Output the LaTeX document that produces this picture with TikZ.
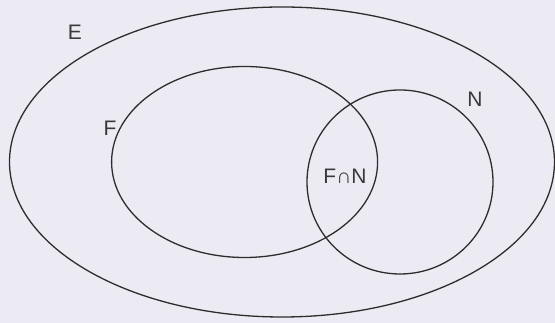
\documentclass[tikz,border=0pt]{standalone}
\usepackage{fontspec}
\setmainfont{Liberation Sans}
\definecolor{bgc}{HTML}{ECEAF3}
\definecolor{linec}{HTML}{302C2C}
\definecolor{textc}{HTML}{3A3838}
\begin{document}
\begin{tikzpicture}[x=1pt,y=1pt,
  setline/.style={draw=linec,line width=1.3pt},
  setlabel/.style={text=textc,font=\fontsize{21}{24}\selectfont,inner sep=0pt}]
\fill[bgc] (0,0) rectangle (555,323);
\useasboundingbox (0,0) rectangle (555,323);
\draw[setline] (282,161) ellipse [x radius=272.5, y radius=155];
\draw[setline] (244.6,161) ellipse [x radius=133, y radius=95.5];
\draw[setline] (400,141) ellipse [x radius=93, y radius=92];
\node[setlabel] (E) at (75,291) {E};
\node[setlabel] (F) at (110,195) {F};
\node[setlabel] (N) at (475,224) {N};
\node[setlabel] (FN) at (345,147) {F∩N};
\end{tikzpicture}
\end{document}
